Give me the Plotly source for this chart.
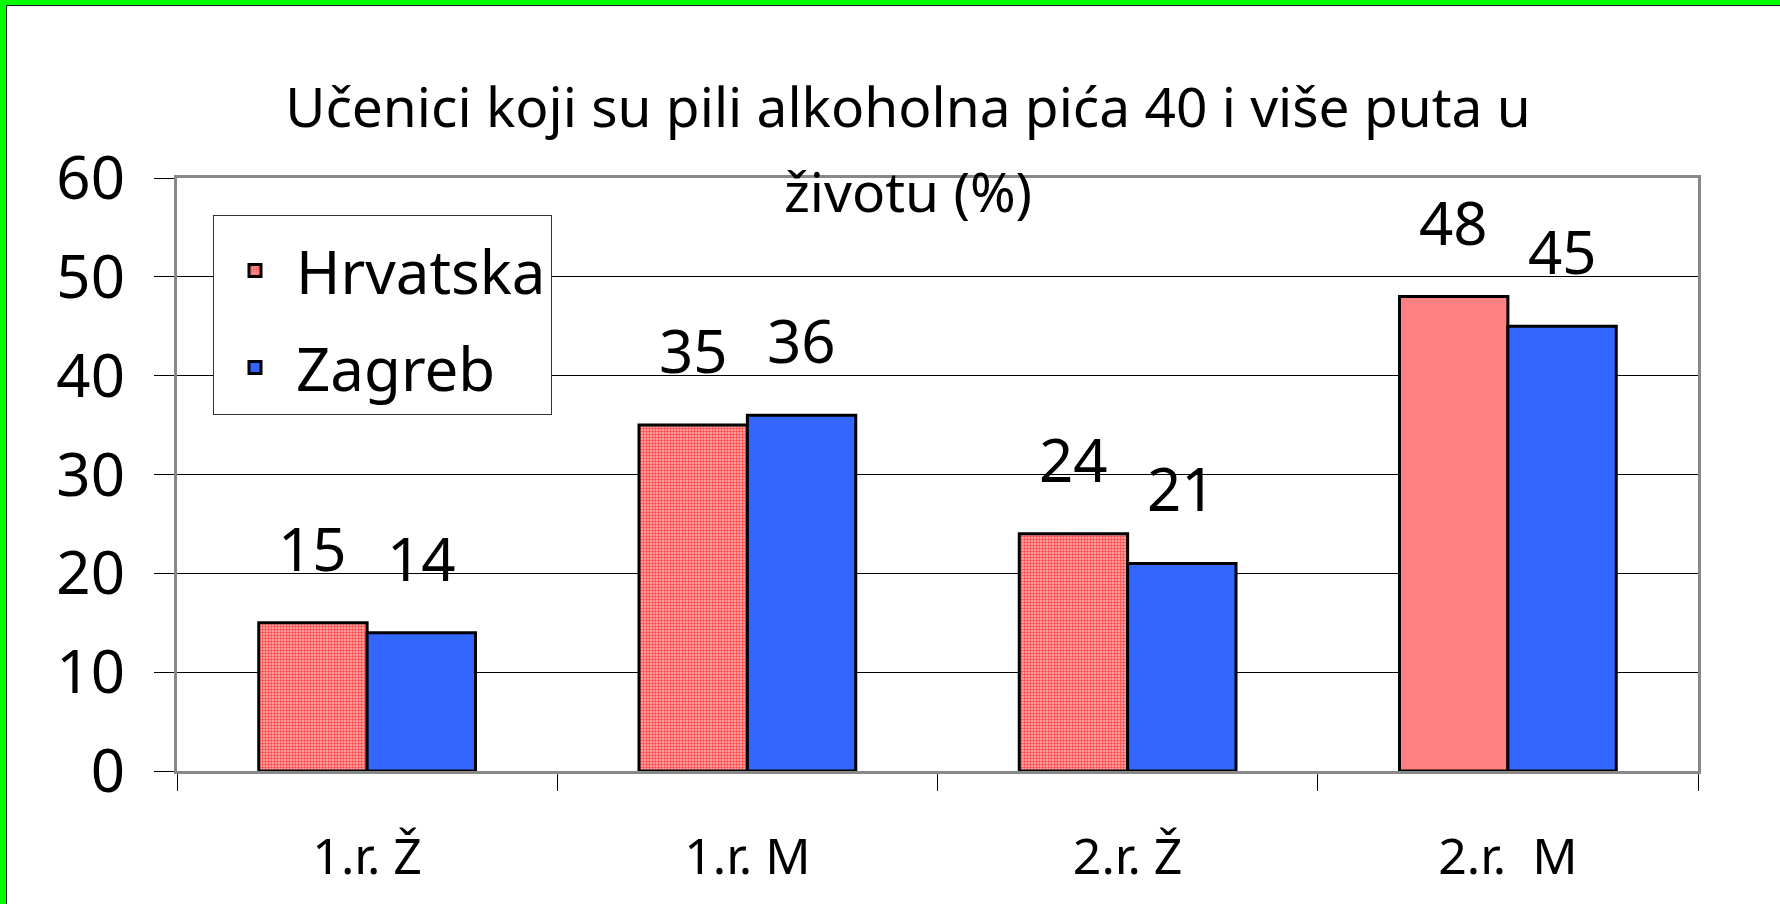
import plotly.graph_objects as go

categories = ["1.r. Ž", "1.r. M", "2.r. Ž", "2.r.  M"]
hrvatska = [15, 35, 24, 48]
zagreb = [14, 36, 21, 45]
series_names = ["Hrvatska", "Zagreb"]
title_line1 = "Učenici koji su pili alkoholna pića 40 i više puta u"
title_line2 = "životu (%)"
y_ticks = [0, 10, 20, 30, 40, 50, 60]

W, H = 1780, 904
ML, MR, MT, MB = 177, 82, 178, 133
PW, PH = W - ML - MR, H - MT - MB
BARGAP = 0.43
FONT = "Noto Sans"

fig = go.Figure()
fig.add_trace(go.Bar(
    name=series_names[0], x=categories, y=hrvatska, legendgroup="a",
    marker=dict(color="#FF8080", line=dict(color="black", width=3),
                pattern=dict(shape=[".", ".", ".", ""], size=3, solidity=0.5,
                             fgcolor="#FF4545", bgcolor="#FFB5B5", fillmode="replace")),
))
fig.add_trace(go.Bar(
    name=series_names[1], x=categories, y=zagreb, legendgroup="b",
    marker=dict(color="#3366FF", line=dict(color="black", width=3)),
))

catw = PW / len(categories)
barw = catw * (1 - BARGAP) / 2
annotations = []
for i, vals in enumerate([hrvatska, zagreb]):
    for c, v in zip(categories, vals):
        annotations.append(dict(
            x=c, y=v, xref="x", yref="y", text=str(v), showarrow=False,
            xanchor="center", yanchor="bottom", xshift=(i - 0.5) * barw, yshift=32,
            font=dict(family=FONT, size=60, color="black"),
        ))
annotations.append(dict(
    x=(908 - ML) / PW, y=(MT + PH - 191) / PH, xref="paper", yref="paper",
    text=title_line2, showarrow=False, xanchor="center", yanchor="middle",
    font=dict(family=FONT, size=55, color="black"),
))

fig.update_layout(
    width=W, height=H,
    margin=dict(l=ML, r=MR, t=MT, b=MB, autoexpand=False),
    paper_bgcolor="#00FF00",
    plot_bgcolor="#00FF00",
    barmode="group", bargap=BARGAP, bargroupgap=0,
    title=dict(text=title_line1, x=(908 - ML) / PW, xref="paper", xanchor="center",
               y=1 - 108 / H, yref="container", yanchor="middle",
               font=dict(family=FONT, size=55, color="black")),
    font=dict(family=FONT, color="black"),
    legend=dict(x=(213 - ML) / PW, y=(MT + PH - 215) / PH, xanchor="left", yanchor="top",
                bgcolor="white", bordercolor="#333333", borderwidth=1,
                font=dict(family=FONT, size=60, color="black"),
                title=dict(text=" ", font=dict(size=7)),
                tracegroupgap=16, itemwidth=72),
    annotations=annotations,
    shapes=[dict(type="rect", xref="paper", yref="paper", layer="below",
                 x0=(6.5 - ML) / PW, x1=(W + 20 - ML) / PW,
                 y0=-(MB + 20) / PH, y1=1 + (MT - 5.5) / PH,
                 fillcolor="white", line=dict(color="#1a1a1a", width=1))],
)
fig.update_yaxes(range=[0, 60], tickvals=y_ticks, showgrid=True, gridcolor="black", gridwidth=1,
                 showline=True, linecolor="#888888", linewidth=3, mirror=True,
                 ticks="outside", ticklen=20, tickcolor="black", tickwidth=1,
                 ticklabelstandoff=17, zeroline=False,
                 tickfont=dict(family=FONT, size=60, color="black"))
fig.update_xaxes(showline=True, linecolor="#888888", linewidth=3, mirror=True,
                 ticks="outside", tickson="boundaries", ticklen=17, tickcolor="black", tickwidth=1,
                 ticklabelstandoff=40,
                 tickfont=dict(family=FONT, size=50, color="black"))

fig.write_html("out.html", config={"displayModeBar": False},
               post_script="document.body.style.margin='0';")
